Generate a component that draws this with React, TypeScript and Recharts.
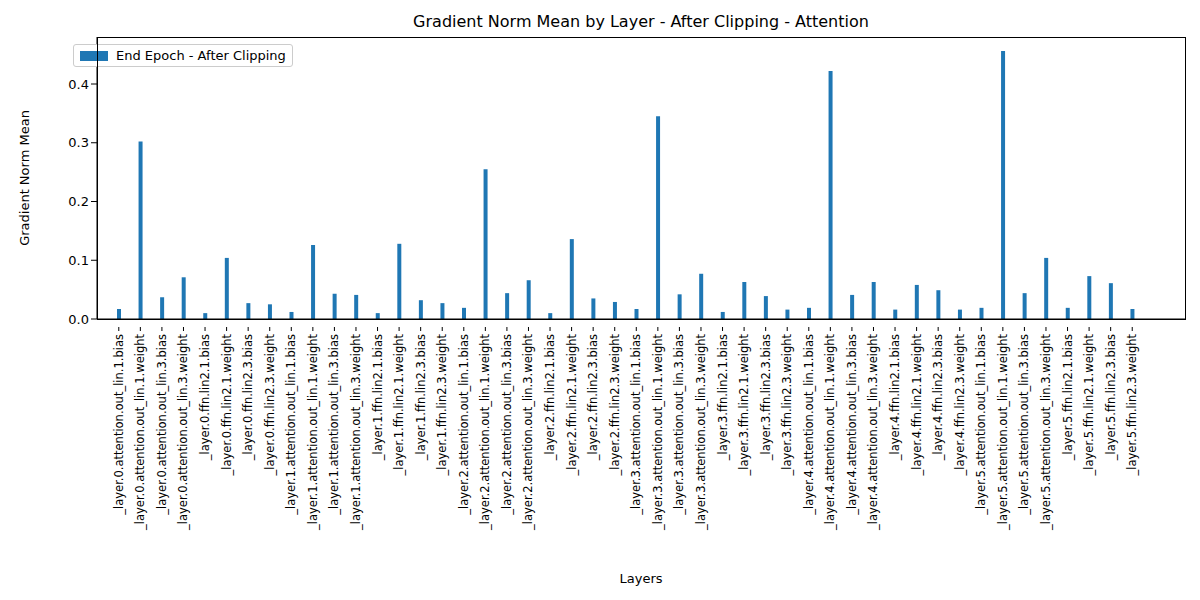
import React from "react";
import { BarChart, Bar, XAxis, YAxis } from "recharts";

const layers = ["0", "1", "2", "3", "4", "5"];
const params = [
  "attention.out_lin.1.bias", "attention.out_lin.1.weight", "attention.out_lin.3.bias", "attention.out_lin.3.weight",
  "ffn.lin2.1.bias", "ffn.lin2.1.weight", "ffn.lin2.3.bias", "ffn.lin2.3.weight",
];
const values = [
  0.017, 0.302, 0.037, 0.071, 0.010, 0.104, 0.027, 0.025,
  0.012, 0.126, 0.043, 0.041, 0.010, 0.128, 0.032, 0.027,
  0.019, 0.255, 0.044, 0.066, 0.010, 0.136, 0.035, 0.029,
  0.017, 0.345, 0.042, 0.077, 0.012, 0.063, 0.039, 0.016,
  0.019, 0.422, 0.041, 0.063, 0.016, 0.058, 0.049, 0.016,
  0.019, 0.456, 0.044, 0.104, 0.019, 0.073, 0.061, 0.017,
];
const yTicks = [0, 0.1, 0.2, 0.3, 0.4];

const data = layers.flatMap((l, li) =>
  params.map((p, pi) => ({ name: `_layer.${l}.${p}`, value: values[li * 8 + pi] }))
);

const font = "DejaVu Sans, sans-serif";

const Tick = (props: any) => {
  const { x, y, payload } = props;
  return (
    <g transform={`translate(${x},${y})`}>
      <line x1={0} y1={0} x2={0} y2={4} stroke="#000" />
      <text transform="rotate(-90)" x={-7} y={0} dy={4} textAnchor="end" fontSize={11.5} fontFamily={font} fill="#000">
        {payload.value}
      </text>
    </g>
  );
};

export default function App() {
  return (
    <div style={{ position: "relative", width: 1200, height: 600, margin: -8, background: "#fff" }}>
      <div style={{ position: "absolute", top: 12, left: 0, width: 1282, textAlign: "center", fontFamily: font, fontSize: 16 }}>
        Gradient Norm Mean by Layer - After Clipping - Attention
      </div>
      <BarChart width={1200} height={600} data={data} margin={{ top: 37, right: 15, bottom: 0, left: 0 }} barCategoryGap={0}>
        <XAxis dataKey="name" interval={0} tick={<Tick />} tickLine={false} height={281} padding={{ left: 11, right: 42 }} stroke="#000"
          label={{ value: "Layers", position: "insideBottom", offset: 17, fontSize: 13, fontFamily: font, fill: "#000" }} />
        <YAxis width={97} domain={[0, 0.48]} ticks={yTicks} allowDataOverflow tick={{ fontSize: 13, fontFamily: font, fill: "#000" }} stroke="#000"
          tickFormatter={(v: number) => v.toFixed(1)}
          label={{ value: "Gradient Norm Mean", angle: -90, position: "insideLeft", offset: 24, style: { textAnchor: "middle" }, fontSize: 13, fontFamily: font, fill: "#000" }} />
        <Bar dataKey="value" fill="#1f77b4" barSize={4} isAnimationActive={false} />
      </BarChart>
      <div style={{ position: "absolute", left: 73, top: 44, border: "1px solid #ccc", borderRadius: 3, background: "#fff", padding: "3px 6px", display: "flex", alignItems: "center", fontFamily: font, fontSize: 13 }}>
        <span style={{ width: 28, height: 10, background: "#1f77b4", display: "inline-block", marginRight: 8 }} />
        End Epoch - After Clipping
      </div>
      <div style={{ position: "absolute", left: 97, top: 37, width: 1089, height: 283, border: "1px solid #000", boxSizing: "border-box", pointerEvents: "none" }} />
    </div>
  );
}
